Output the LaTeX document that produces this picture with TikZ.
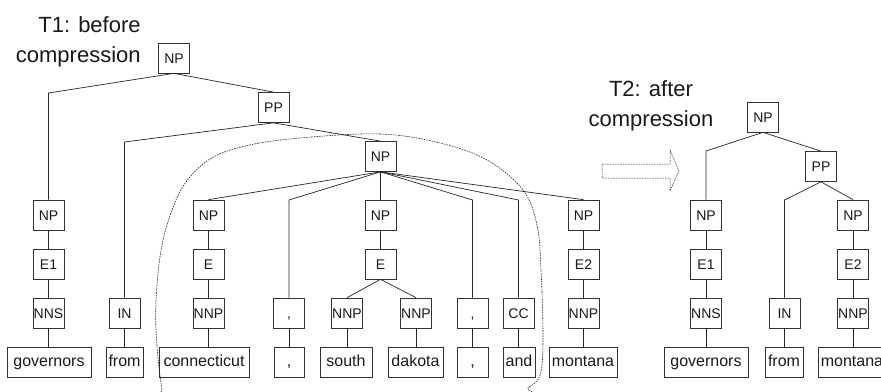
\documentclass[tikz,border=0pt]{standalone}
\usepackage{fontspec}
\setmainfont{Liberation Sans}

\begin{document}
\begin{tikzpicture}[x=1pt, y=-1pt,
    every node/.style={draw=black!80, line width=0.7pt, inner sep=0pt, text=black!90},
    tag/.style={minimum width=31pt, minimum height=30pt, text height=10pt, text depth=0pt,
      font=\fontsize{14}{16}\selectfont},
    word/.style={minimum height=30pt, text height=11.7pt, text depth=3.4pt,
      font=\fontsize{16}{18}\selectfont},
    title/.style={draw=none, font=\fontsize{22}{30}\selectfont},
    edge/.style={draw=black!85, line width=0.7pt},
    region/.style={draw=black!85, line width=0.6pt, dash pattern=on 1.6pt off 1pt}]
    \useasboundingbox (0,0) rectangle (881,391);

    % T1: before compression
    \node[title, align=right, anchor=north east] (t1) at (141,16) {T1: before\\compression};
    \node[tag] (r0) at (174,58) {NP};
    \node[tag] (pp) at (273.5,107.5) {PP};
    \node[tag] (np) at (380.5,156.5) {NP};
    \node[tag] (g1) at (48.5,215) {NP};
    \node[tag] (g2) at (48.5,264) {E1};
    \node[tag] (g3) at (48.5,313) {NNS};
    \node[word, minimum width=84pt] (g4) at (49,362) {governors};
    \node[tag] (f3) at (124.5,313) {IN};
    \node[word, minimum width=37pt] (f4) at (124.5,362) {from};
    \node[tag] (c1) at (208.5,215) {NP};
    \node[tag] (c2) at (208.5,264) {E};
    \node[tag] (c3) at (208.5,313) {NNP};
    \node[word, minimum width=90pt] (c4) at (204,362) {connecticut};
    \node[tag] (k3) at (289,313) {,};
    \node[word, minimum width=30pt] (k4) at (289,362) {,};
    \node[tag] (s1) at (380.5,215) {NP};
    \node[tag] (s2) at (380.5,264) {E};
    \node[tag] (s3) at (347,313) {NNP};
    \node[word, minimum width=52pt] (s4) at (346,362) {south};
    \node[tag] (d3) at (416,313) {NNP};
    \node[word, minimum width=55pt] (d4) at (415.5,362) {dakota};
    \node[tag] (l3) at (472.5,313) {,};
    \node[word, minimum width=31pt] (l4) at (472.5,362) {,};
    \node[tag] (a3) at (518.5,313) {CC};
    \node[word, minimum width=32pt] (a4) at (519,362) {and};
    \node[tag] (m1) at (583.5,215) {NP};
    \node[tag] (m2) at (583.5,264) {E2};
    \node[tag] (m3) at (583.5,313) {NNP};
    \node[word, minimum width=68pt] (m4) at (583,362) {montana};

    \coordinate (j1) at (0,93);
    \coordinate (j2) at (0,142);
    \coordinate (j3) at (0,200);
    \draw[edge] (r0.south) -- (g1 |- j1) -- (g1.north);
    \draw[edge] (r0.south) -- (pp.north);
    \draw[edge] (pp.south) -- (f3 |- j2) -- (f3.north);
    \draw[edge] (pp.south) -- (np.north);
    \draw[edge] (np.south) -- (c1.north);
    \draw[edge] (np.south) -- (k3 |- j3) -- (k3.north);
    \draw[edge] (np.south) -- (s1.north);
    \draw[edge] (np.south) -- (l3 |- j3) -- (l3.north);
    \draw[edge] (np.south) -- (a3 |- j3) -- (a3.north);
    \draw[edge] (np.south) -- (m1.north);
    \draw[edge] (s2.south) -- (s3.north);
    \draw[edge] (s2.south) -- (d3.north);
    \draw[edge] (g1) -- (g2) -- (g3);
    \draw[edge] (c1) -- (c2) -- (c3);
    \draw[edge] (s1) -- (s2);
    \draw[edge] (m1) -- (m2) -- (m3);
    \foreach \a/\b in {g3/g4, f3/f4, c3/c4, k3/k4, s3/s4, d3/d4, l3/l4, a3/a4, m3/m4}
      \draw[edge] (\a.south) -- (\a.south |- \b.north);

    % compressed part
    \draw[region] plot[smooth cycle, tension=0.6] coordinates {
      (300,138) (380,134) (440,143) (487,160) (523,190) (537,225) (541,270)
      (543,340) (540,375) (528,388) (510,400) (172,400) (162,388) (156,330)
      (157,285) (162,245) (172,210) (186,182) (210,159) (245,146)};

    \draw[region, line width=0.5pt] (602,164) -- (670,164) -- (670,150) -- (679,171)
      -- (670,191) -- (670,178) -- (602,178) -- cycle;

    % T2: after compression
    \node[title, align=center, anchor=north] (t2) at (651,80) {T2: after\\compression};
    \node[tag] (u0) at (763,117) {NP};
    \node[tag] (upp) at (821,166.5) {PP};
    \node[tag] (ug1) at (706,215) {NP};
    \node[tag] (ug2) at (706,264) {E1};
    \node[tag] (ug3) at (706,313) {NNS};
    \node[word, minimum width=84pt] (ug4) at (706,362) {governors};
    \node[tag] (uf3) at (784.5,313) {IN};
    \node[word, minimum width=38pt] (uf4) at (784,362) {from};
    \node[tag] (um1) at (853,215) {NP};
    \node[tag] (um2) at (853,264) {E2};
    \node[tag] (um3) at (853,313) {NNP};
    \node[word, minimum width=68pt] (um4) at (852,362) {montana};

    \coordinate (h1) at (0,151);
    \draw[edge] (u0.south) -- (ug1 |- h1) -- (ug1.north);
    \draw[edge] (u0.south) -- (upp.north);
    \draw[edge] (upp.south) -- (uf3 |- j3) -- (uf3.north);
    \draw[edge] (upp.south) -- (um1.north);
    \draw[edge] (ug1) -- (ug2) -- (ug3);
    \draw[edge] (um1) -- (um2) -- (um3);
    \foreach \a/\b in {ug3/ug4, uf3/uf4, um3/um4}
      \draw[edge] (\a.south) -- (\a.south |- \b.north);
\end{tikzpicture}
\end{document}
